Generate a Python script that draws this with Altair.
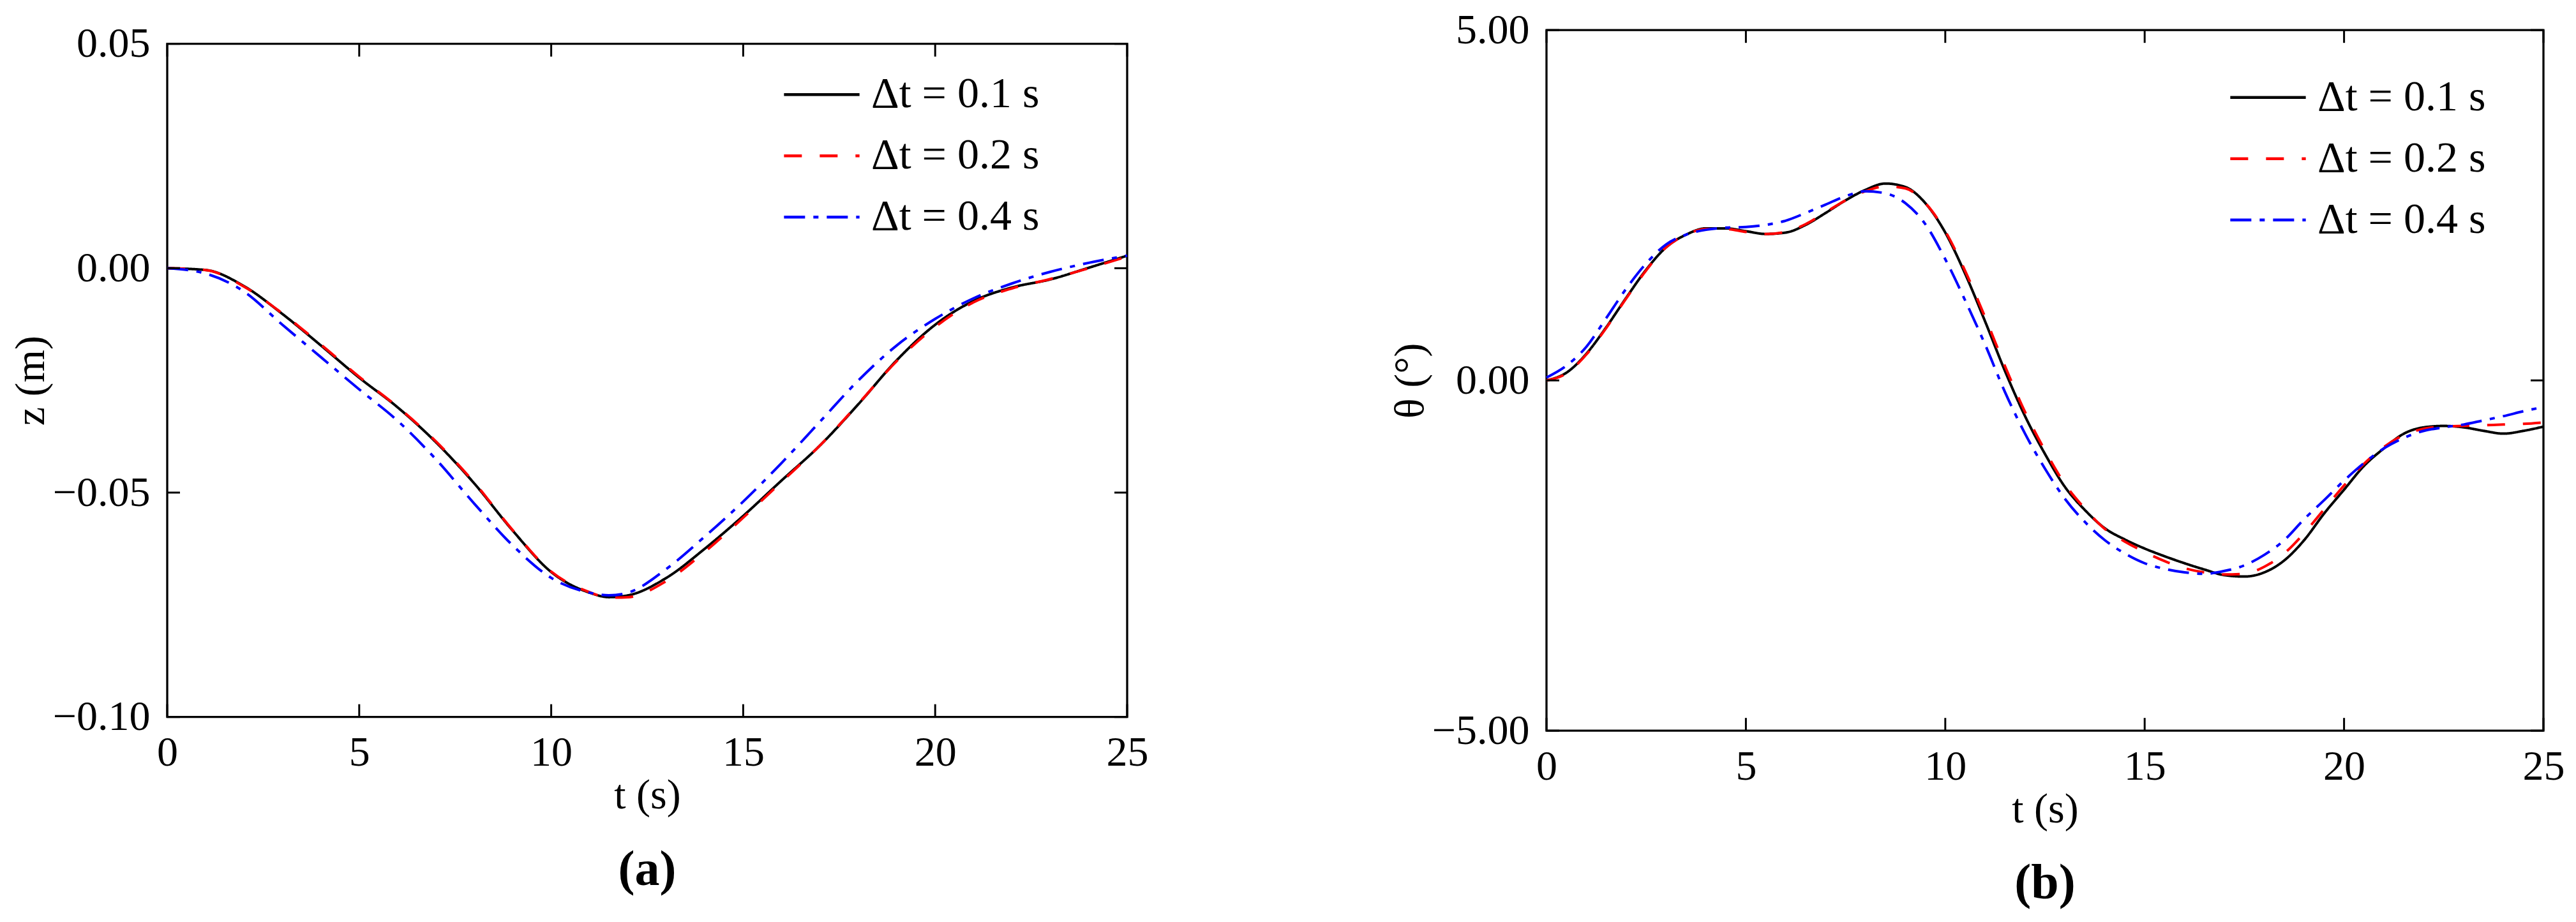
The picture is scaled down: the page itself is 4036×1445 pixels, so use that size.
import altair as alt
import pandas as pd

FONT = "Liberation Serif"

# series labels and styles
SERIES = ["Δt = 0.1 s", "Δt = 0.2 s", "Δt = 0.4 s"]
COLORS = ["#000000", "#ff0000", "#0000ff"]
DASHES = [[1, 0], [28, 28], [33, 13, 8, 13]]

X_TICKS = [0, 5, 10, 15, 20, 25]

# (a) heave z (m)
T_Z = [0, 1, 2, 3, 4, 5, 6, 7, 8, 9, 10, 11, 11.5, 12, 13, 14, 15, 16, 17, 18, 19, 20, 21, 22, 23, 24, 25]
Z_01 = [0, -0.0004, -0.0040, -0.0102, -0.0172, -0.0244, -0.0310, -0.0388, -0.0480, -0.0585, -0.0677, -0.0723,
        -0.0733, -0.0729, -0.0690, -0.0625, -0.0552, -0.0473, -0.0395, -0.0303, -0.0205, -0.0126, -0.0073,
        -0.0043, -0.0025, 0.0001, 0.0028]
Z_02 = [0, -0.0004, -0.0041, -0.0101, -0.0170, -0.0242, -0.0309, -0.0386, -0.0478, -0.0584, -0.0676, -0.0722,
        -0.0734, -0.0733, -0.0697, -0.0632, -0.0556, -0.0476, -0.0395, -0.0302, -0.0207, -0.0131, -0.0076,
        -0.0045, -0.0024, 0.0000, 0.0026]
Z_04 = [0, -0.0012, -0.0052, -0.0126, -0.0198, -0.0270, -0.0340, -0.0426, -0.0525, -0.0618, -0.0690, -0.0723,
        -0.0729, -0.0723, -0.0670, -0.0598, -0.0520, -0.0434, -0.0342, -0.0250, -0.0172, -0.0113, -0.0067,
        -0.0034, -0.0008, 0.0012, 0.0028]
Z_TICKS = [-0.10, -0.05, 0.00, 0.05]

# (b) pitch theta (deg)
T_TH = [i * 0.5 for i in range(51)]
TH_01 = [0, 0.11, 0.38, 0.76, 1.18, 1.58, 1.90, 2.08, 2.17, 2.17, 2.13, 2.09, 2.11, 2.22, 2.39, 2.57, 2.72,
         2.81, 2.76, 2.53, 2.11, 1.52, 0.84, 0.13, -0.51, -1.05, -1.52, -1.85, -2.11, -2.27, -2.40, -2.51,
         -2.61, -2.70, -2.78, -2.80, -2.74, -2.57, -2.28, -1.90, -1.56, -1.22, -0.97, -0.76, -0.67, -0.65,
         -0.67, -0.72, -0.76, -0.72, -0.66]
TH_02 = [0, 0.10, 0.37, 0.75, 1.17, 1.57, 1.90, 2.08, 2.16, 2.16, 2.12, 2.09, 2.12, 2.23, 2.40, 2.57, 2.70,
         2.77, 2.74, 2.53, 2.13, 1.56, 0.90, 0.20, -0.45, -1.00, -1.48, -1.83, -2.12, -2.30, -2.45, -2.58,
         -2.68, -2.74, -2.77, -2.76, -2.66, -2.47, -2.18, -1.84, -1.50, -1.19, -0.95, -0.78, -0.69, -0.66,
         -0.65, -0.64, -0.63, -0.62, -0.60]
TH_04 = [0.04, 0.21, 0.48, 0.89, 1.31, 1.67, 1.94, 2.08, 2.15, 2.18, 2.19, 2.22, 2.28, 2.39, 2.51, 2.63, 2.70,
         2.67, 2.53, 2.23, 1.73, 1.14, 0.51, -0.17, -0.76, -1.26, -1.69, -2.02, -2.28, -2.47, -2.61, -2.69,
         -2.74, -2.76, -2.72, -2.64, -2.49, -2.28, -1.98, -1.71, -1.43, -1.18, -0.97, -0.82, -0.72, -0.67,
         -0.63, -0.57, -0.51, -0.44, -0.38]
TH_TICKS = [-5, 0, 5]


def longForm(t, cols):
    frames = []
    for name, vals in zip(SERIES, cols):
        frames.append(pd.DataFrame({"t": t, "v": vals, "series": name}))
    return pd.concat(frames, ignore_index=True)


def panel(df, yTitle, yTicks, yDomain, W, H, legX, legY, tag):
    tickLen = 20
    legend = alt.Legend(
        title=None, orient="none", legendX=legX, legendY=legY, padding=0,
        symbolType="stroke", symbolSize=14000, symbolStrokeWidth=4.5,
        labelFont=FONT, labelFontSize=68, labelColor="black", labelOffset=16,
        labelLimit=0, rowPadding=0,
    )
    lines = alt.Chart(df).mark_line(strokeWidth=4, interpolate="monotone").encode(
        x=alt.X("t:Q", scale=alt.Scale(domain=[0, 25], nice=False, zero=False),
                axis=alt.Axis(values=X_TICKS, format="d", title="t (s)", labelPadding=24, titlePadding=2)),
        y=alt.Y("v:Q", scale=alt.Scale(domain=yDomain, nice=False, zero=False),
                axis=alt.Axis(values=yTicks, format=".2f", title=yTitle, labelPadding=27, titlePadding=0)),
        color=alt.Color("series:N", scale=alt.Scale(domain=SERIES, range=COLORS), legend=legend),
        strokeDash=alt.StrokeDash("series:N", scale=alt.Scale(domain=SERIES, range=DASHES), legend=legend),
    )
    xt = pd.DataFrame({"t": X_TICKS})
    yt = pd.DataFrame({"v": yTicks})
    bottom = alt.Chart(xt).mark_rule(color="black", strokeWidth=3).encode(
        x="t:Q", y=alt.value(H), y2=alt.value(H - tickLen))
    top = alt.Chart(xt).mark_rule(color="black", strokeWidth=3).encode(
        x="t:Q", y=alt.value(0), y2=alt.value(tickLen))
    left = alt.Chart(yt).mark_rule(color="black", strokeWidth=3).encode(
        y="v:Q", x=alt.value(0), x2=alt.value(tickLen))
    right = alt.Chart(yt).mark_rule(color="black", strokeWidth=3).encode(
        y="v:Q", x=alt.value(W), x2=alt.value(W - tickLen))
    return alt.layer(lines, bottom, top, left, right).properties(
        width=W, height=H,
        title=alt.TitleParams(tag, orient="bottom", anchor="middle", font=FONT, fontSize=78,
                              fontWeight="bold", color="black", offset=45),
    )


zData = longForm(T_Z, [Z_01, Z_02, Z_04])
thData = longForm(T_TH, [TH_01, TH_02, TH_04])

chartA = panel(zData, "z (m)", Z_TICKS, [-0.10, 0.05], 1504, 1055, 964, 18, "(a)")
chartB = panel(thData, "θ (°)", TH_TICKS, [-5, 5], 1562, 1098, 1069, 44, "(b)")

chart = alt.hconcat(chartA, chartB, spacing=373, center=True).resolve_scale(
    color="independent", strokeDash="independent"
).resolve_legend(
    color="independent", strokeDash="independent"
).properties(
    padding={"left": 5, "top": 4, "right": 5, "bottom": 5}, background="white"
).configure_view(
    stroke="black", strokeWidth=3.3
).configure_axis(
    labelFont=FONT, labelFontSize=66, labelColor="black", labelFlush=False, labelOverlap=False,
    titleFont=FONT, titleFontSize=66, titleFontWeight="normal", titleColor="black",
    ticks=False, domain=False, grid=False,
)

chart.save("out.html", embed_options={"renderer": "svg", "actions": False})
